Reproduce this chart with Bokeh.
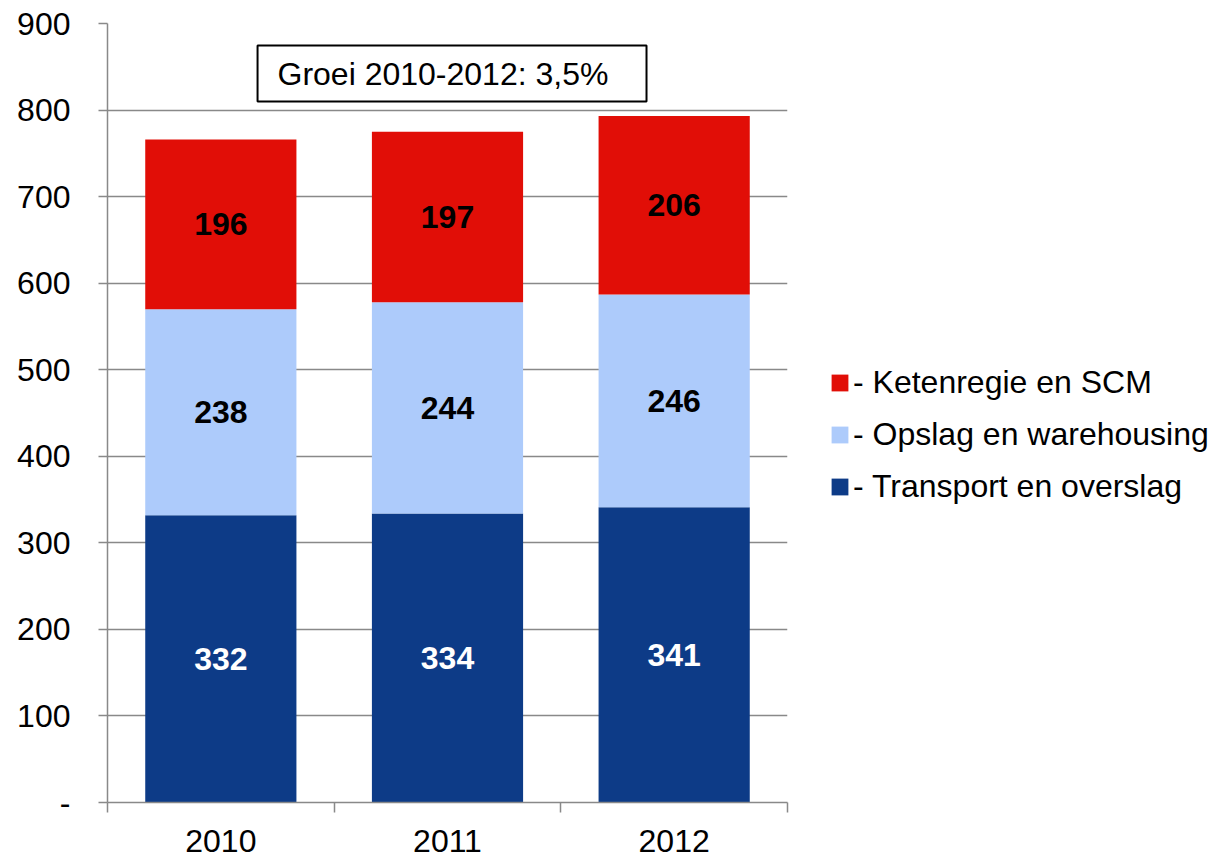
from bokeh.plotting import figure
from bokeh.models import (FixedTicker, Legend, LegendItem, BoxAnnotation, Label,
                          ColumnDataSource, Range1d, CustomJSTickFormatter)
from bokeh.core.properties import value
from bokeh.embed import file_html
from bokeh.resources import INLINE

years = ["2010", "2011", "2012"]
transport = [332, 334, 341]
opslag = [238, 244, 246]
keten = [196, 197, 206]
series_names = ["Transport en overslag", "Opslag en warehousing", "Ketenregie en SCM"]
colors = ["#0D3B87", "#ADCBFB", "#E10E07"]
label_colors = ["white", "black", "black"]
y_ticks = list(range(0, 1000, 100))
annotation_text = "Groei 2010-2012: 3,5%"

FONT = "Liberation Sans"
GRID = "#898989"
FS = "32px"

xs = [i + 0.5 for i in range(len(years))]

p = figure(frame_width=680, frame_height=779, output_backend="svg", toolbar_location=None,
           x_range=Range1d(0, len(years)), y_range=Range1d(0, 900),
           min_border_left=107, min_border_right=420, min_border_top=23, min_border_bottom=30)
p.outline_line_color = None
p.background_fill_color = "white"

series = [transport, opslag, keten]
bottoms = [0] * len(years)
renderers = []
for vals, col, lc in zip(series, colors, label_colors):
    tops = [b + v for b, v in zip(bottoms, vals)]
    mids = [(b + t) / 2 for b, t in zip(bottoms, tops)]
    src = ColumnDataSource(dict(x=xs, bottom=bottoms, top=tops, mid=mids,
                                txt=[str(v) for v in vals]))
    r = p.vbar(x="x", bottom="bottom", top="top", width=0.667, source=src,
               fill_color=col, line_color=None)
    renderers.append(r)
    p.text(x="x", y="mid", text="txt", source=src, text_align="center",
           text_baseline="middle", text_font=value(FONT), text_font_style="bold",
           text_font_size=FS, text_color=lc)
    bottoms = tops

# axes
p.yaxis.ticker = FixedTicker(ticks=y_ticks)
p.yaxis.formatter = CustomJSTickFormatter(code="return tick == 0 ? '-' : tick.toFixed(0);")
p.yaxis.major_tick_out = 9
p.yaxis.major_tick_in = 0
p.yaxis.minor_tick_out = 0
p.yaxis.minor_tick_in = 0
p.yaxis.major_label_standoff = 28
p.yaxis.axis_line_color = GRID
p.yaxis.axis_line_width = 1.5
p.yaxis.major_tick_line_color = GRID
p.yaxis.major_tick_line_width = 1.5

p.xaxis.ticker = FixedTicker(ticks=xs, minor_ticks=list(range(len(years) + 1)))
p.xaxis.formatter = CustomJSTickFormatter(args=dict(labels=years),
                                          code="return labels[Math.floor(tick)];")
p.xaxis.major_tick_out = 0
p.xaxis.major_tick_in = 0
p.xaxis.minor_tick_out = 10
p.xaxis.minor_tick_in = 0
p.xaxis.minor_tick_line_color = GRID
p.xaxis.minor_tick_line_width = 1.5
p.xaxis.major_label_standoff = 17
p.xaxis.axis_line_color = GRID
p.xaxis.axis_line_width = 1.5

for ax in (p.xaxis, p.yaxis):
    ax.major_label_text_font = FONT
    ax.major_label_text_font_size = FS
    ax.major_label_text_color = "black"

p.xgrid.grid_line_color = None
p.ygrid.ticker = FixedTicker(ticks=y_ticks)
p.ygrid.grid_line_color = GRID
p.ygrid.grid_line_width = 1.5

# annotation box
box = BoxAnnotation(left=0.662, right=2.378, bottom=810, top=874.5,
                    fill_color="white", fill_alpha=1.0, line_color="black",
                    line_width=2, line_alpha=1.0)
p.add_layout(box)
lab = Label(x=0.75, y=842, text=annotation_text, text_baseline="middle",
            text_align="left", text_font=FONT, text_font_size=FS, text_color="black")
p.add_layout(lab)

# legend
items = [LegendItem(label="- " + series_names[i], renderers=[renderers[i]]) for i in (2, 1, 0)]
legend = Legend(items=items, location=(42, 297), padding=0, margin=0,
                border_line_color=None, background_fill_alpha=0,
                glyph_width=21, glyph_height=21, label_standoff=3, spacing=15,
                label_text_font=FONT, label_text_font_size=FS, label_text_color="black")
p.add_layout(legend, "right")

open("out.html", "w").write(file_html(p, INLINE))
